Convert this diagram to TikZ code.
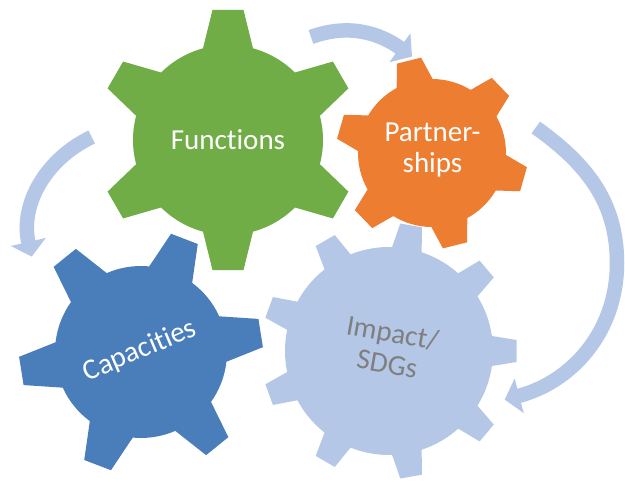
\documentclass[tikz,border=0pt]{standalone}
\usepackage{fontspec}
\setmainfont{Carlito}[Ligatures=NoCommon]
\usetikzlibrary{arrows.meta}

\definecolor{gearGreen}{HTML}{70AD47}
\definecolor{gearOrange}{HTML}{ED7D31}
\definecolor{gearBlue}{HTML}{4A7EBB}
\definecolor{gearPale}{HTML}{B4C7E7}
\definecolor{labelGray}{HTML}{7F7F7F}

\tikzset{
  cyclearrow/.style={draw=gearPale, line width=14.5pt,
    -{Triangle[width=35pt,length=15pt]}},
  gearlabel/.style={font=\fontsize{29}{31}\selectfont, text=white,
    align=center, inner sep=0pt},
}

% #1 name, #2 centre, #3 number of teeth, #4 rotation, #5 body radius,
% #6 tip radius, #7 half width at the root, #8 half width at the tip, #9 fill
\newcommand\drawgear[9]{%
  \coordinate (#1) at #2;
  \pgfmathsetmacro\gstep{360/#3}%
  \pgfmathsetmacro\gbase{asin(#7/#5)}%
  \pgfmathsetmacro\gtip{asin(#8/#6)}%
  \pgfmathtruncatemacro\glast{#3-1}%
  \begin{scope}[shift={#2}, rotate=#4]
    \fill[#9] (-\gbase:#5pt)
      \foreach \k in {0,...,\glast}{
        -- ({\k*\gstep-\gbase}:#5pt) -- ({\k*\gstep-\gtip}:#6pt)
        -- ({\k*\gstep+\gtip}:#6pt) -- ({\k*\gstep+\gbase}:#5pt)
        arc[start angle={\k*\gstep+\gbase}, end angle={(\k+1)*\gstep-\gbase}, radius=#5pt]
      } -- cycle;
  \end{scope}}

\begin{document}
\begin{tikzpicture}[x=1pt, y=1pt]
  \fill[white] (0,0) rectangle (625,482);
  \useasboundingbox (0,0) rectangle (625,482);

  % cycle arrows
  \coordinate (a1s) at (311,445);
  \coordinate (a1e) at (412,425.4);
  \coordinate (a2s) at (91.7,345);
  \coordinate (a2e) at (31.7,225.4);
  \coordinate (a3s) at (535.8,354.5);
  \coordinate (a3m) at (617,219);
  \coordinate (a3e) at (504.7,82.4);
  \draw[cyclearrow] (a1s) to[out=20, in=144] (a1e);
  \draw[cyclearrow] (a2s) to[out=205.6, in=103] (a2e);
  \draw[cyclearrow] (a3s) to[out=-35.6, in=90] (a3m) to[out=-90, in=14.7] (a3e);

  % gears
  \drawgear{gfun}{(228,342)}{6}{30}{95}{131}{25}{15.5}{gearGreen}
  \drawgear{gpart}{(432,329)}{6}{44}{74}{96}{18.5}{12.5}{gearOrange}
  \drawgear{gcap}{(141,130)}{6}{9}{86}{122}{23}{14.3}{gearBlue}
  \drawgear{gimp}{(389,131)}{9}{0}{104}{128}{15}{11}{gearPale}

  % labels
  \node[gearlabel] (functions) at (gfun) {Functions};
  \node[gearlabel] (partnerships) at (432.5,332) {Partner-\\ships};
  \node[gearlabel, rotate=23] (capacities) at (140,131) {Capacities};
  \node[gearlabel, text=labelGray, rotate=-10] (impact) at (390,134) {Impact/\\SDGs};
\end{tikzpicture}
\end{document}
